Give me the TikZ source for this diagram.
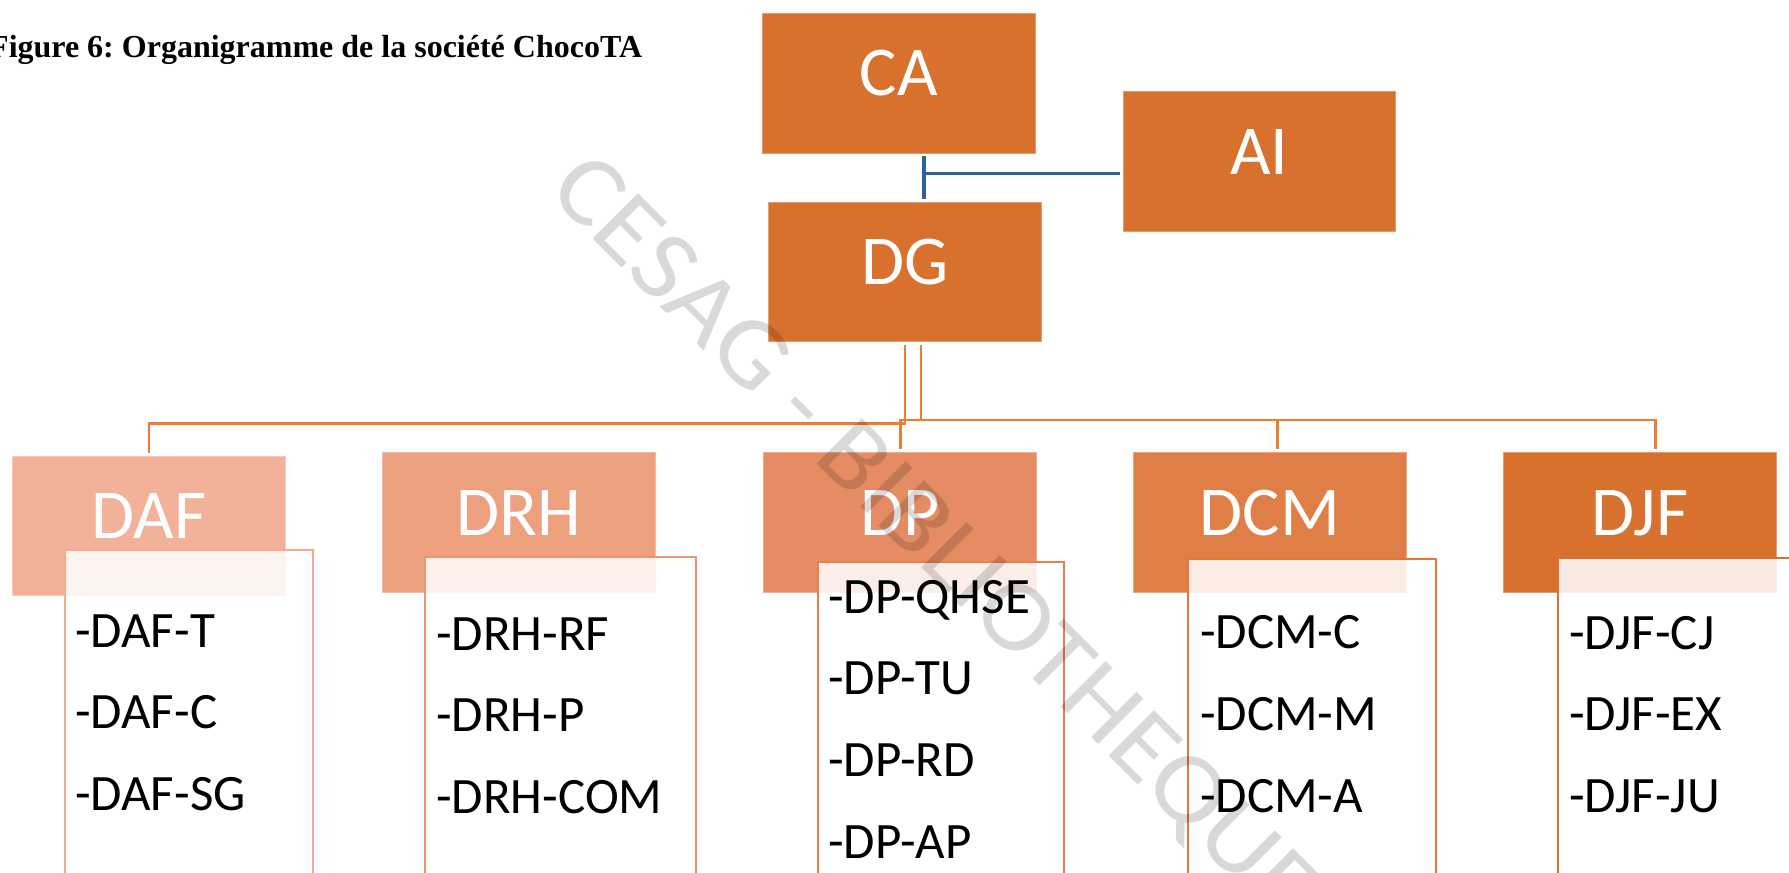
\documentclass[tikz,border=0pt]{standalone}
\usepackage{fontspec}
\setmainfont{Carlito}
\newfontfamily\seriffont{Liberation Serif}
\frenchspacing
\definecolor{cTop}{RGB}{216,113,46}
\definecolor{cDAF}{RGB}{242,178,154}
\definecolor{cDRH}{RGB}{236,160,126}
\definecolor{cDP}{RGB}{229,140,100}
\definecolor{cDCM}{RGB}{223,127,71}
\definecolor{cDJF}{RGB}{216,113,46}
\definecolor{bDAF}{RGB}{243,172,145}
\definecolor{bDRH}{RGB}{236,150,112}
\definecolor{bDP}{RGB}{231,128,80}
\definecolor{bDCM}{RGB}{224,120,60}
\definecolor{connc}{RGB}{237,125,49}
\definecolor{bluec}{RGB}{44,97,155}
\begin{document}
\begin{tikzpicture}[x=1pt,y=-1pt,
  hbox/.style={fill=#1, draw=#1!70!white, line width=0.8pt, anchor=north west, inner sep=0pt,
    minimum width=273pt, minimum height=139pt, text=white,
    font=\fontsize{70}{84}\selectfont, text height=46pt, text depth=20pt},
  tbox/.style={draw=#1, line width=2pt, fill=white, fill opacity=0.86, draw opacity=1,
    anchor=north west, inner sep=0pt, minimum height=420pt},
  item/.style={anchor=base west, inner sep=0pt, font=\fontsize{51}{61}\selectfont, text=black},
  connline/.style={draw=connc, line width=2.5pt},
  blueline/.style={draw=bluec, line width=3.3pt}
]
\useasboundingbox (0,0) rectangle (1789,873);
\clip (0,0) rectangle (1789,873);

% title
\node[anchor=base west, inner sep=0pt, font=\seriffont\bfseries\fontsize{32}{38}\selectfont]
  (title) at (-11,57) {Figure 6: Organigramme de la société ChocoTA};

% top boxes
\node[hbox=cTop, minimum height=140pt] (CA) at (762,12.5) {CA};
\node[hbox=cTop, minimum height=140pt, minimum width=272pt] (AI) at (1123,91) {AI};
\node[hbox=cTop] (DG) at (768,202) {DG};

% header row
\node[hbox=cDAF] (DAF) at (12,456) {DAF};
\node[hbox=cDRH, minimum height=140pt] (DRH) at (382,452) {DRH};
\node[hbox=cDP, minimum height=140pt] (DP) at (763,452) {DP};
\node[hbox=cDCM, minimum height=140pt] (DCM) at (1133,452) {DCM};
\node[hbox=cDJF, minimum height=140pt] (DJF) at (1503,452) {DJF};

% text boxes
\node[tbox=bDAF, minimum width=248pt] (DAFt) at (63.5,549) {};
\node[tbox=bDRH, minimum width=271pt] (DRHt) at (424,556) {};
\node[tbox=bDP, minimum width=246pt] (DPt) at (817,561) {};
\node[tbox=bDCM, minimum width=248pt] (DCMt) at (1187,558) {};
\node[tbox=cDJF, minimum width=248pt] (DJFt) at (1557,557) {};

% items
\foreach \t [count=\i] in {-DAF-T,-DAF-C,-DAF-SG}
  \node[item] (daf\i) at (75,{647+81.5*(\i-1)}) {\t};
\foreach \t [count=\i] in {-DRH-RF,-DRH-P,-DRH-COM}
  \node[item] (drh\i) at (436,{650+81.5*(\i-1)}) {\t};
\foreach \t [count=\i] in {-DP-QHSE,-DP-TU,-DP-RD,-DP-AP}
  \node[item] (dp\i) at (828,{613+81.7*(\i-1)}) {\t};
\foreach \t [count=\i] in {-DCM-C,-DCM-M,-DCM-A}
  \node[item] (dcm\i) at (1200,{648+82*(\i-1)}) {\t};
\foreach \t [count=\i] in {-DJF-CJ,-DJF-EX,-DJF-JU}
  \node[item] (djf\i) at (1569,{649+81.5*(\i-1)}) {\t};

% orange connectors
\coordinate (dgL) at ([yshift=-3pt]DG.south);
\coordinate (dgR) at ([xshift=16pt,yshift=-3pt]DG.south);
\draw[connline] (dgL) -- ++(0,78.5) -| ([yshift=3pt]DAF.north);
\draw[connline] (dgR) -- ++(0,75) -| ([xshift=0.5pt,yshift=3pt]DP.north);
\draw[connline] (dgR) -- ++(0,75) -| ([xshift=7.5pt,yshift=3pt]DCM.north);
\draw[connline] (dgR) -- ++(0,75) -| ([xshift=15.5pt,yshift=3pt]DJF.north);

% blue connectors
\coordinate (bx) at (924,0);
\draw[blueline] ([yshift=-3pt]CA.south -| bx) -- ([yshift=3pt]DG.north -| bx);
\draw[blueline] ([xshift=-3pt,yshift=-12pt]AI.west) -- ([yshift=-12pt]AI.west -| bx);

% watermark
\node[rotate=-45, text=black, text opacity=0.15, inner sep=0pt,
  font=\fontsize{100}{120}\selectfont, text height=64pt, text depth=0pt]
  (wm) at (936,537) {\scalebox{1.098}[1]{CESAG - BIBLIOTHEQUE}};
\end{tikzpicture}
\end{document}
